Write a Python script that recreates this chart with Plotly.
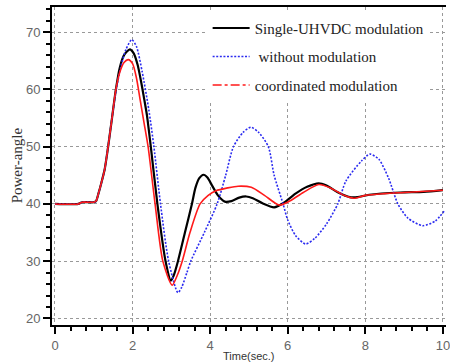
import plotly.graph_objects as go

# Single-UHVDC modulation (black)
t_single = [0, 0.6, 0.7, 1.0, 1.06, 1.12, 1.2, 1.28, 1.37, 1.47, 1.57, 1.67, 1.78, 1.93, 2.03, 2.13, 2.23,
            2.3, 2.37, 2.47, 2.64, 2.85, 2.99, 3.06, 3.17, 3.35, 3.53, 3.62, 3.72, 3.83, 3.93, 4.05, 4.2, 4.38,
            4.55, 4.75, 4.93, 5.1, 5.35, 5.65, 5.9, 6.2, 6.5, 6.8, 7.0, 7.3, 7.6, 7.8, 8.1, 8.9, 9.5, 10.0]
y_single = [40, 40, 40.3, 40.3, 40.5, 41.8, 43.8, 46, 50, 55, 60, 63.8, 66, 67, 66.3, 64.3, 61,
            58.3, 55.5, 50, 40, 30, 26.6, 27.5, 30, 35, 40, 42.8, 44.5, 45.1, 44.6, 43.2, 41.5, 40.4,
            40.5, 41.1, 41.3, 41.0, 40.1, 39.4, 40.2, 41.8, 43.0, 43.6, 43.2, 42.0, 41.2, 41.2, 41.6, 42.0, 42.1, 42.4]

# without modulation (blue)
t_without = [0, 0.6, 0.7, 1.0, 1.06, 1.12, 1.2, 1.28, 1.37, 1.47, 1.58, 1.7, 1.83, 1.98, 2.1, 2.25, 2.42,
             2.55, 2.72, 2.93, 3.17, 3.27, 3.4, 3.5, 3.85, 4.18, 4.4, 4.6, 4.85, 5.05, 5.25, 5.5, 5.65,
             5.88, 6.0, 6.2, 6.46, 6.7, 7.0, 7.29, 7.5, 7.9, 8.12, 8.35, 8.6, 8.84, 9.1, 9.48, 9.8, 10.03]
y_without = [40, 40, 40.3, 40.3, 40.5, 41.8, 43.8, 46, 50, 55, 60, 64, 67, 68.7, 67.5, 63, 56.4,
             50, 40, 30, 24.5, 25.5, 28, 30, 35, 40, 45, 50, 52.5, 53.4, 52.5, 50, 45,
             40, 37.2, 34.5, 33, 34, 36.5, 40, 44, 47.5, 48.7, 47.8, 44.5, 40, 37.5, 36.2, 37, 38.7]

# coordinated modulation (red)
t_coord = [0, 0.6, 0.7, 1.0, 1.06, 1.12, 1.2, 1.28, 1.37, 1.47, 1.57, 1.67, 1.78, 1.89, 2.0, 2.1, 2.2,
           2.3, 2.4, 2.58, 2.78, 3.02, 3.15, 3.28, 3.48, 3.74, 3.95, 4.15, 4.45, 4.72, 5.06, 5.4, 5.78,
           6.05, 6.4, 6.8, 7.1, 7.45, 7.7, 8.0, 8.5, 9.0, 10.0]
y_coord = [40, 40, 40.3, 40.3, 40.5, 41.8, 43.8, 46, 50, 55, 60, 63, 64.7, 65.2, 64.5, 62, 58,
           54, 50, 40, 30, 25.8, 27.5, 30, 35, 40, 41.5, 42.3, 42.8, 43.1, 42.9, 41.5, 39.8,
           40.5, 42.0, 43.4, 42.8, 41.5, 41.0, 41.5, 41.8, 42.0, 42.4]

names = ["Single-UHVDC modulation", " without modulation", "coordinated modulation"]
x_ticks = [0, 2, 4, 6, 8, 10]
y_ticks = [20, 30, 40, 50, 60, 70]

fig = go.Figure()
fig.add_trace(go.Scatter(x=t_single, y=y_single, mode="lines", name=names[0], legendgroup="a",
                         line=dict(color="black", width=2.2, shape="spline", smoothing=0.7)))
fig.add_trace(go.Scatter(x=t_without, y=y_without, mode="lines", name=names[1], legendgroup="b",
                         line=dict(color="#2b2bf0", width=1.6, dash="2px,1.6px", shape="spline", smoothing=0.7)))
fig.add_trace(go.Scatter(x=t_coord, y=y_coord, mode="lines", name=names[2], legendgroup="c",
                         showlegend=False,
                         line=dict(color="#ff1a1a", width=1.6, shape="spline", smoothing=0.7)))
# legend sample for the red curve is dash-dot
fig.add_trace(go.Scatter(x=[None], y=[None], mode="lines", name=names[2], legendgroup="c",
                         line=dict(color="#ff1a1a", width=1.6, dash="dashdot")))

L, R, T, B, W, H = 52, 0, 7, 39, 450, 364
pw, ph = W - L - R, H - T - B

def px(x):
    return (x - L) / pw

def py(y):
    return 1 - (y - T) / ph

fig.update_layout(
    width=W, height=H,
    margin=dict(l=L, r=R, t=T, b=B),
    paper_bgcolor="white", plot_bgcolor="white",
    showlegend=True,
    legend=dict(x=0.395, y=0.985, xanchor="left", yanchor="top", bgcolor="white",
                font=dict(family="Liberation Serif", size=15, color="#222"),
                tracegroupgap=6, itemwidth=37),
    xaxis=dict(range=[-0.077, 10.08], tickvals=x_ticks, ticks="outside", ticklen=7, tickwidth=1.5,
               tickcolor="black", showline=True, linecolor="black", linewidth=2, mirror=True,
               showgrid=True, gridcolor="#999", griddash="dot", gridwidth=1, zeroline=False,
               ticklabeloverflow="allow",
               tickfont=dict(family="Liberation Sans", size=13, color="#666"),
               minor=dict(ticks="outside", dtick=0.4, ticklen=4, tickcolor="black", tickwidth=1.5, showgrid=False)),
    yaxis=dict(range=[18.85, 74.4], tickvals=y_ticks, ticks="outside", ticklen=7, tickwidth=1.5,
               tickcolor="black", showline=True, linecolor="black", linewidth=2, mirror=False,
               showgrid=True, gridcolor="#999", griddash="dot", gridwidth=1, zeroline=False,
               tickfont=dict(family="Liberation Sans", size=13, color="#666"),
               minor=dict(ticks="outside", dtick=2, ticklen=4, tickcolor="black", tickwidth=1.5, showgrid=False)),
    annotations=[
        dict(text="Power-angle", x=px(17), y=py(165), xref="paper", yref="paper", showarrow=False,
             textangle=-90, xanchor="center", yanchor="middle",
             font=dict(family="Liberation Serif", size=15, color="#333")),
        dict(text="Time(sec.)", x=px(251), y=py(356), xref="paper", yref="paper", showarrow=False,
             xanchor="center", yanchor="middle",
             font=dict(family="Liberation Sans", size=11, color="#333")),
    ],
)

fig.write_html("out.html")
